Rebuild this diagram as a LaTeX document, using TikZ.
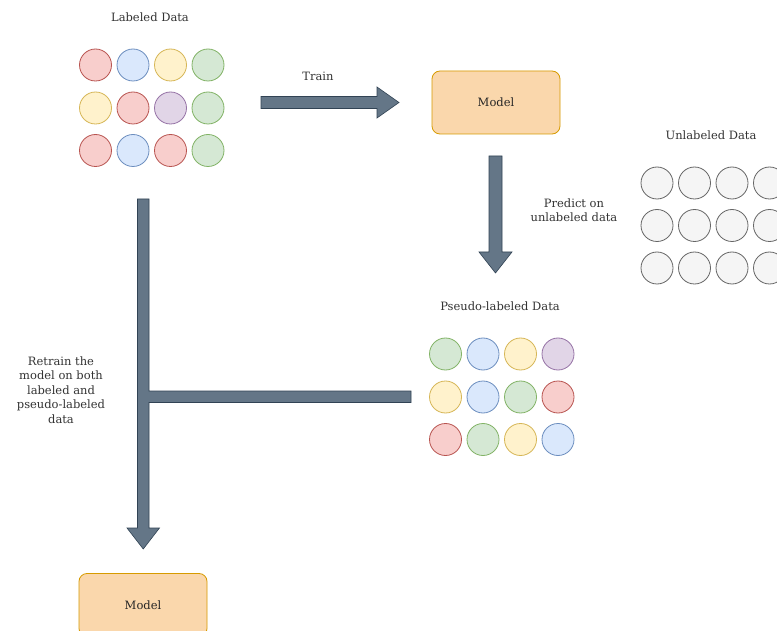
\documentclass[tikz,border=0pt]{standalone}
\usepackage{fontspec}
\setmainfont{DejaVu Serif}
\begin{document}
\begin{tikzpicture}[x=1pt,y=-1pt,
  lbl/.style={font=\fontsize{11.5}{14.5}\selectfont, text=black!80, align=center},
  dot/.style={circle, minimum size=32pt, inner sep=0pt, line width=0.8pt},
  modelbox/.style={rectangle, rounded corners=8pt, minimum width=128pt, minimum height=63pt, line width=0.8pt, font=\fontsize{11.5}{14}\selectfont, text=black!85}
]
\definecolor{rf}{HTML}{F8CECC}\definecolor{rs}{HTML}{B85450}
\definecolor{bf}{HTML}{DAE8FC}\definecolor{bs}{HTML}{6C8EBF}
\definecolor{yf}{HTML}{FFF2CC}\definecolor{ys}{HTML}{D6B656}
\definecolor{gf}{HTML}{D5E8D4}\definecolor{gs}{HTML}{82B366}
\definecolor{pf}{HTML}{E1D5E7}\definecolor{ps}{HTML}{9673A6}
\definecolor{wf}{HTML}{F5F5F5}\definecolor{ws}{HTML}{666666}
\definecolor{of}{HTML}{FAD7AC}\definecolor{os}{HTML}{D79B00}
\definecolor{af}{HTML}{647687}\definecolor{as}{HTML}{314354}
\tikzset{
  cr/.style={dot, fill=rf, draw=rs},
  cb/.style={dot, fill=bf, draw=bs},
  cy/.style={dot, fill=yf, draw=ys},
  cg/.style={dot, fill=gf, draw=gs},
  cp/.style={dot, fill=pf, draw=ps},
  cw/.style={dot, fill=wf, draw=ws},
  modelbox/.append style={fill=of, draw=os},
  blockarrow/.style={fill=af, draw=as, line width=0.6pt, line join=miter}
}
\useasboundingbox (0,0) rectangle (777,631);
\clip (0,0) rectangle (777,631);
\fill[white] (0,0) rectangle (777,631);

% Labeled data
\node[lbl] (tl) at (150,17) {Labeled Data};
\foreach \s [count=\i] in {cr,cb,cy,cg}
  \node[\s] (l1\i) at ({95.5+37.5*(\i-1)},65) {};
\foreach \s [count=\i] in {cy,cr,cp,cg}
  \node[\s] (l2\i) at ({95.5+37.5*(\i-1)},108) {};
\foreach \s [count=\i] in {cr,cb,cr,cg}
  \node[\s] (l3\i) at ({95.5+37.5*(\i-1)},150.5) {};

% Models
\node[modelbox] (m1) at (496,102.5) {Model};
\node[modelbox] (m2) at (143,605) {Model};

% Unlabeled data
\node[lbl] (tu) at (711,135) {Unlabeled Data};
\foreach \r/\y in {1/183,2/225.5,3/268}
  \foreach \i in {1,2,3,4}
    \node[cw] (u\r\i) at ({657+37.5*(\i-1)},\y) {};

% Pseudo-labeled data
\node[lbl] (tp) at (500,306) {Pseudo-labeled Data};
\foreach \s [count=\i] in {cg,cb,cy,cp}
  \node[\s] (p1\i) at ({445.5+37.5*(\i-1)},354) {};
\foreach \s [count=\i] in {cy,cb,cg,cr}
  \node[\s] (p2\i) at ({445.5+37.5*(\i-1)},397) {};
\foreach \s [count=\i] in {cr,cg,cy,cb}
  \node[\s] (p3\i) at ({445.5+37.5*(\i-1)},439.5) {};

% Train arrow
\draw[blockarrow] (261,96.5) -- (377,96.5) -- (377,87) -- (399,102.5) -- (377,118) -- (377,108.5) -- (261,108.5) -- cycle;
\node[lbl] (ttrain) at (318,76) {Train};

% Predict arrow
\draw[blockarrow] (489,156) -- (502,156) -- (502,252) -- (512,252) -- (495.5,273) -- (479,252) -- (489,252) -- cycle;
\node[lbl] (tpred) at (574,210) {Predict on\\unlabeled data};

% Retrain arrow (T shape)
\draw[blockarrow] (137.5,199) -- (149,199) -- (149,391) -- (411,391) -- (411,402.5) -- (149,402.5) -- (149,528) -- (159.5,528) -- (143.25,549) -- (127,528) -- (137.5,528) -- cycle;
\node[lbl] (tret) at (61,390) {Retrain the\\model on both\\labeled and\\pseudo-labeled\\data};
\end{tikzpicture}
\end{document}
